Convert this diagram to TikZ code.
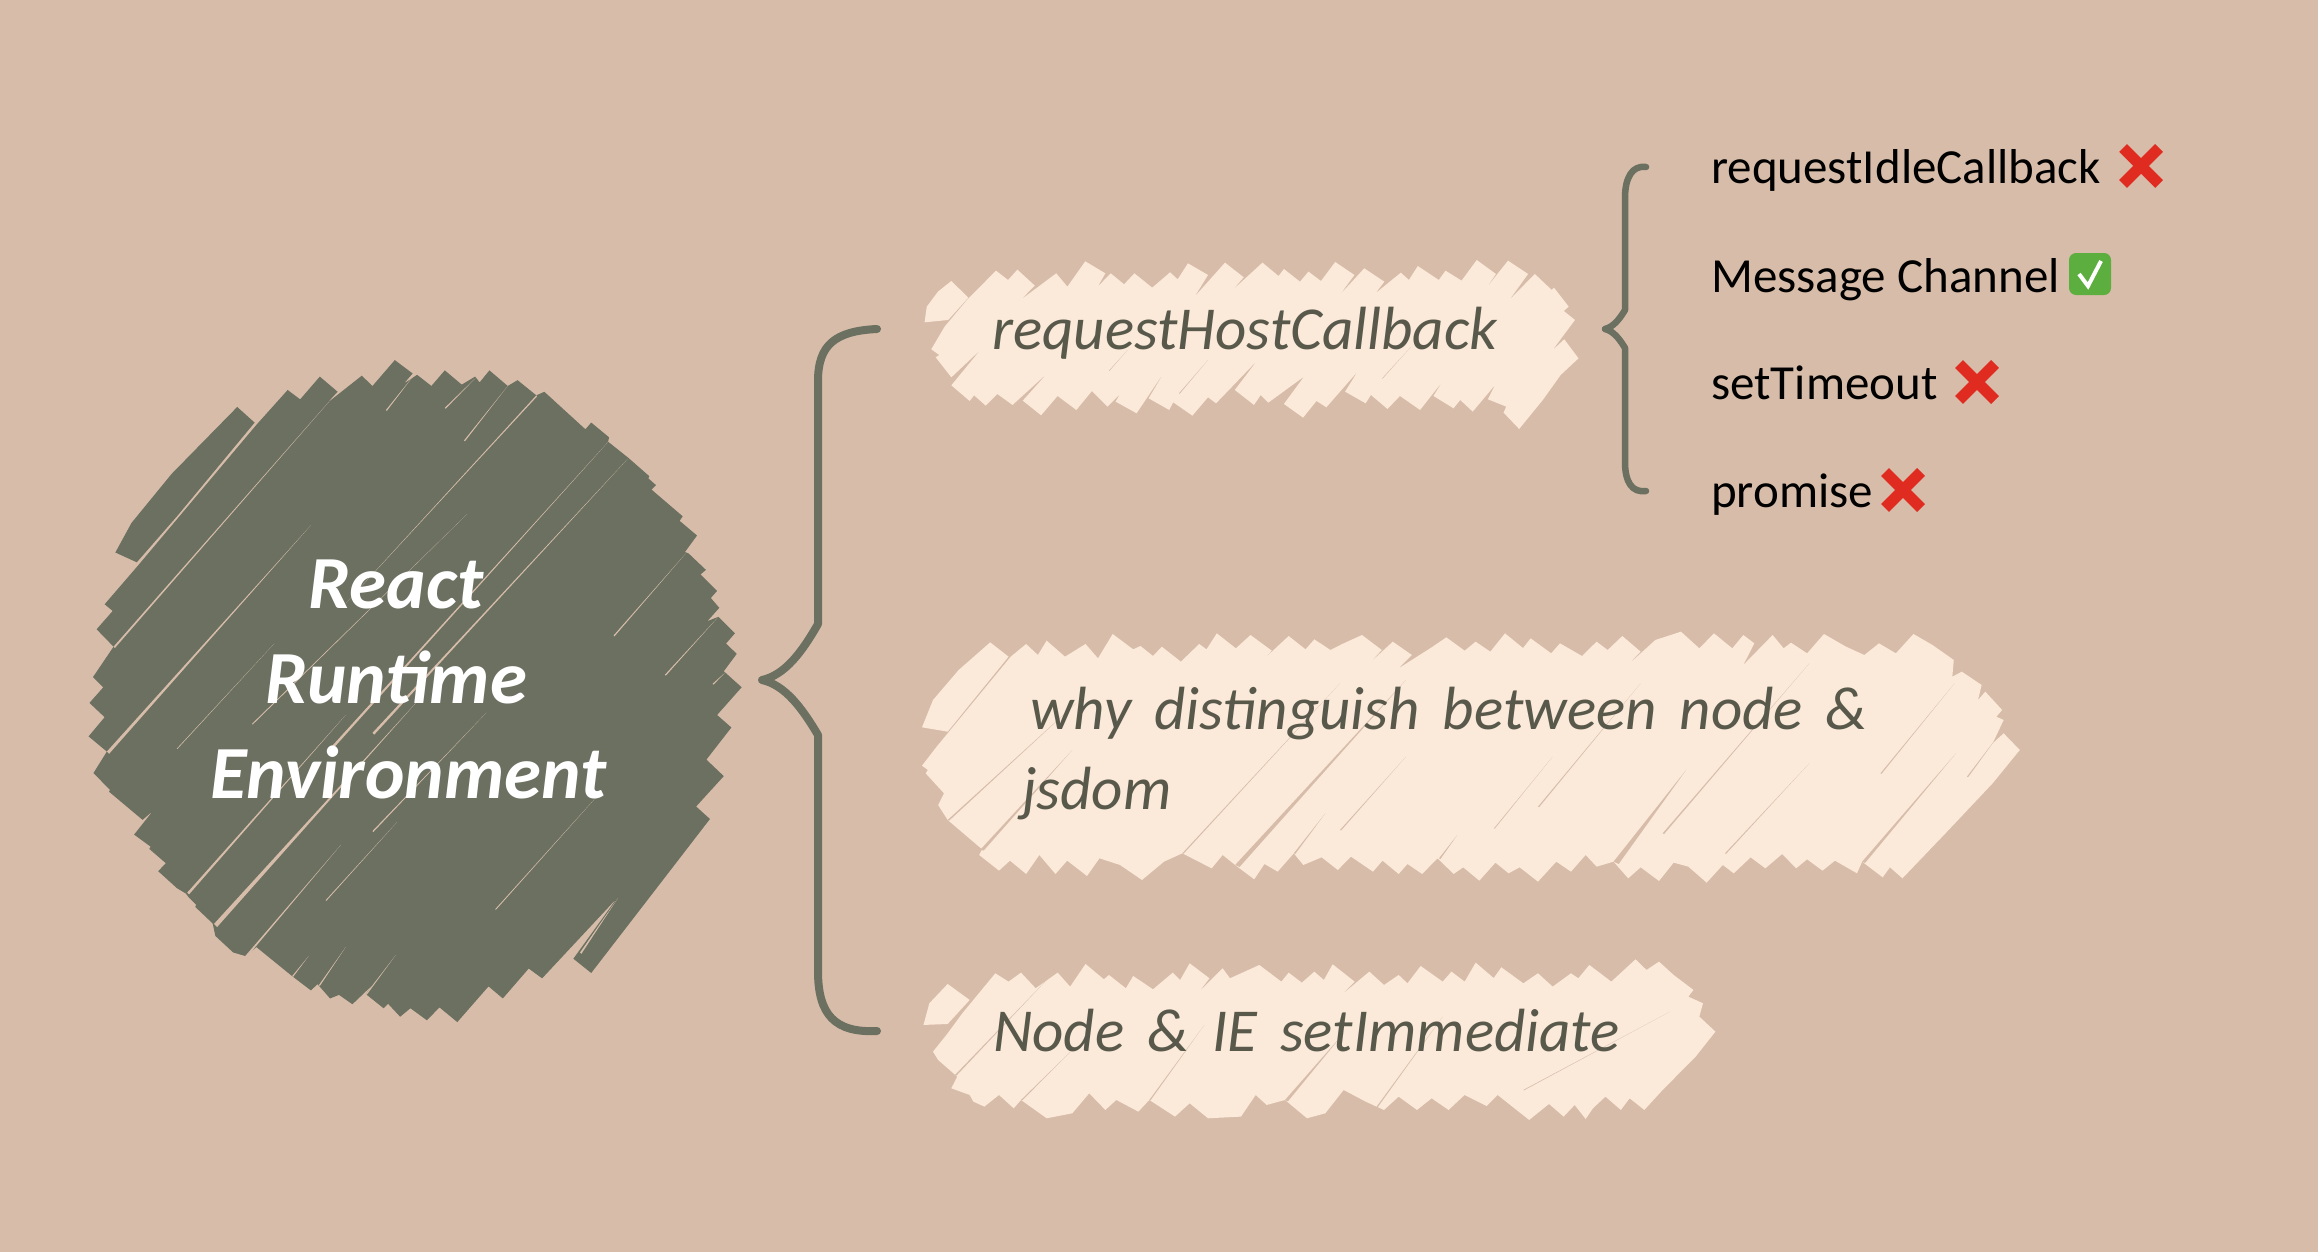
\documentclass[tikz,border=0pt]{standalone}
\usepackage{fontspec}
\setmainfont{Carlito}
\newfontfamily\handfam[WordSpace=1.67]{Carlito}
\definecolor{bgc}{HTML}{D7BDA9}
\definecolor{dark}{HTML}{6B7060}
\definecolor{lightc}{HTML}{FBE9DA}
\definecolor{txt}{HTML}{58594B}
\definecolor{crossc}{HTML}{E02B20}
\definecolor{okc}{HTML}{5CAE3E}
\newcommand{\slit}[4][bgc]{\fill[#1] (#2) -- (#3) -- ([shift={(#4,#4)}]#2) -- cycle;}
\newcommand{\crossmark}[1]{\draw[crossc,line width=11pt] ([shift={(-18,-18)}]#1) -- ([shift={(18,18)}]#1) ([shift={(18,-18)}]#1) -- ([shift={(-18,18)}]#1);}
\tikzset{
  hand/.style={font=\handfam\fontsize{61}{76}\selectfont\itshape,text=txt,anchor=base west,inner sep=0pt},
  item/.style={font=\fontsize{49}{50}\selectfont,text=black,anchor=base west,inner sep=0pt},
  bracket/.style={draw=dark,line cap=round,line join=round},
  zoomA/.style={shift={(60,340)},x=0.4464pt,y=-0.4464pt},
  zoomB/.style={shift={(900,120)},x=0.4464pt,y=-0.3333pt},
  zoomC/.style={shift={(900,620)},x=0.7333pt,y=-0.3333pt}
}
\begin{document}
\begin{tikzpicture}[x=1pt,y=-1pt]
\useasboundingbox (0,0) rectangle (2318,1252);
\fill[bgc] (0,0) rectangle (2318,1252);
% dark scribble
\begin{scope}[zoomA]
\fill[dark] (397,150)--(436,185)--(262,395)--(172,498)--(124,476)--(160,410)--(250,300)--cycle;
\fill[dark] (100,592)--(175,505)--(440,190)--(510,112)--(538,133)--(582,82)--(622,116)--(600,140)--(676,80)--(700,103)--(750,45)--(790,75)--(770,98)--(800,78)--(832,103)--(862,68)--(900,100)--(930,82)--(940,95)--(962,68)--(1003,103)--(1025,90)--(1067,124)--(1085,116)--(1177,200)--(1190,185)--(1230,218)--(1228,228)--(1272,263)--(1280,270)--(1320,305)--(1318,310)--(1335,325)--(1325,335)--(1395,395)--(1388,405)--(1427,438)--(1400,475)--(1408,478)--(1447,515)--(1435,525)--(1472,562)--(1458,578)--(1477,600)--(1450,630)--(1475,620)--(1512,657)--(1492,680)--(1516,703)--(1487,742)--(1527,778)--(1472,840)--(1504,868)--(1448,940)--(1487,977)--(1425,1045)--(1456,1073)--(1190,1418)--(1150,1386)--(1248,1250)--(1080,1430)--(1050,1408)--(992,1475)--(960,1448)--(890,1528)--(850,1495)--(822,1524)--(785,1497)--(762,1516)--(735,1487)--(725,1497)--(685,1465)--(700,1445)--(655,1488)--(625,1467)--(605,1475)--(577,1443)--(562,1457)--(520,1425)--(440,1360)--(415,1380)--(388,1372)--(348,1335)--(342,1307)--(303,1270)--(305,1265)--(288,1248)--(282,1240)--(262,1228)--(220,1190)--(237,1172)--(200,1140)--(203,1135)--(166,1108)--(208,1055)--(185,1075)--(110,1012)--(112,1008)--(75,970)--(105,922)--(64,888)--(100,845)--(66,813)--(97,778)--(74,755)--(120,687)--(82,648)--(118,607)--cycle;
\slit{120,687}{622,116}{3}
\slit{105,922}{562,415}{5}
\slit{262,915}{480,680}{1}
\slit{430,860}{912,390}{1.5}
\slit{730,157}{792,80}{2}
\slit{862,152}{932,84}{2}
\slit{905,225}{1003,103}{2}
\slit{1067,124}{640,590}{2}
\slit{285,1238}{640,840}{4}
\slit{600,920}{1230,226}{4}
\slit{700,880}{1272,266}{4}
\slit{1240,662}{1402,478}{2}
\slit{1355,750}{1475,620}{2}
\slit{1462,770}{1490,745}{2}
\slit{345,1308}{800,810}{7}
\slit{415,1380}{630,1130}{3}
\slit{595,1255}{755,1080}{1.5}
\slit{975,1275}{1205,1020}{1.5}
\slit{520,1425}{557,1380}{2}
\slit{580,1445}{640,1360}{2}
\slit{685,1465}{752,1378}{2}
\slit{700,1100}{955,835}{2}
\slit{1165,1372}{1250,1250}{3}
\end{scope}
% light scribble 1
\begin{scope}[zoomB]
\fill[lightc] (115,483)--(153,533)--(108,600)--(55,607)--(60,560)--(85,515)--cycle;
\fill[lightc] (70,688)--(100,620)--(150,540)--(215,452)--(242,480)--(263,449)--(302,497)--(270,540)--(350,460)--(375,500)--(415,424)--(460,460)--(443,500)--(472,460)--(502,493)--(525,460)--(565,503)--(605,457)--(622,478)--(645,430)--(690,465)--(660,530)--(728,428)--(770,472)--(745,510)--(812,428)--(848,468)--(860,447)--(896,485)--(915,455)--(943,483)--(975,426)--(1018,465)--(985,525)--(1040,445)--(1085,485)--(1065,520)--(1122,458)--(1140,480)--(1160,438)--(1207,480)--(1222,452)--(1258,482)--(1292,420)--(1335,462)--(1310,510)--(1362,422)--(1407,462)--(1365,540)--(1422,462)--(1460,510)--(1465,503)--(1498,560)--(1487,573)--(1512,600)--(1462,690)--(1488,658)--(1520,715)--(1480,765)--(1440,840)--(1387,927)--(1352,878)--(1358,860)--(1317,838)--(1333,795)--(1283,875)--(1255,840)--(1240,865)--(1195,828)--(1215,785)--(1165,870)--(1120,828)--(1092,867)--(1055,825)--(1043,850)--(997,815)--(1025,755)--(955,862)--(933,843)--(903,893)--(860,852)--(905,770)--(825,848)--(808,825)--(793,855)--(750,810)--(800,722)--(708,850)--(690,832)--(655,887)--(612,847)--(603,870)--(557,835)--(595,750)--(530,880)--(483,845)--(493,822)--(465,860)--(430,813)--(395,870)--(353,828)--(316,886)--(275,842)--(330,760)--(252,855)--(218,822)--(192,857)--(166,826)--(156,843)--(115,796)--(180,690)--(115,772)--(80,712)--(88,705)--cycle;
\slit{468,752}{510,690}{1}
\slit{625,820}{690,720}{1.5}
\slit{1080,775}{1145,680}{1}
\end{scope}
% light scribbles 2 and 3
\begin{scope}[zoomC]
\fill[lightc] (123,67)--(148,110)--(65,335)--(30,322)--(45,240)--(80,150)--cycle;
\fill[lightc] (30,437)--(50,380)--(65,340)--(151,110)--(172,72)--(188,105)--(200,62)--(225,110)--(253,72)--(270,115)--(290,42)--(318,88)--(328,78)--(345,108)--(357,80)--(383,125)--(408,72)--(418,88)--(432,40)--(458,85)--(478,45)--(507,92)--(490,130)--(530,48)--(553,88)--(565,58)--(587,90)--(603,72)--(630,45)--(657,90)--(640,130)--(672,65)--(698,105)--(680,145)--(725,82)--(745,52)--(770,92)--(785,65)--(805,95)--(825,40)--(850,85)--(835,125)--(860,55)--(888,100)--(900,70)--(930,108)--(950,65)--(965,90)--(985,48)--(1010,95)--(990,140)--(1030,60)--(1065,35)--(1090,85)--(1110,40)--(1135,85)--(1150,45)--(1165,70)--(1150,135)--(1190,45)--(1205,85)--(1215,68)--(1237,100)--(1260,42)--(1290,80)--(1315,105)--(1335,70)--(1358,100)--(1382,42)--(1408,75)--(1437,120)--(1435,170)--(1448,155)--(1475,195)--(1470,240)--(1480,215)--(1503,270)--(1495,290)--(1505,300)--(1490,370)--(1505,340)--(1527,390)--(1490,490)--(1430,630)--(1367,775)--(1350,742)--(1340,772)--(1312,725)--(1305,760)--(1275,722)--(1258,752)--(1237,718)--(1222,745)--(1203,702)--(1180,745)--(1160,712)--(1137,760)--(1122,735)--(1100,788)--(1075,740)--(1055,728)--(1035,783)--(1010,742)--(993,775)--(973,725)--(950,740)--(935,705)--(915,755)--(895,725)--(870,785)--(845,742)--(830,760)--(812,728)--(790,782)--(768,742)--(755,762)--(733,715)--(712,762)--(692,732)--(680,762)--(658,722)--(645,755)--(615,710)--(597,750)--(575,712)--(550,735)--(537,700)--(515,755)--(497,732)--(483,778)--(457,735)--(440,705)--(425,745)--(385,700)--(360,725)--(330,780)--(300,735)--(272,715)--(255,768)--(228,722)--(212,762)--(190,705)--(172,762)--(150,722)--(135,752)--(108,705)--(112,688)--(65,600)--(52,555)--(60,520)--(35,460)--(38,450)--cycle;
\slit{65,600}{240,250}{2}
\slit{110,688}{235,390}{4}
\slit{385,700}{600,190}{1.5}
\slit{457,735}{690,180}{6}
\slit{537,700}{580,580}{2}
\slit{600,630}{690,410}{1.5}
\slit{735,715}{760,645}{2}
\slit{810,625}{890,410}{1}
\slit{870,560}{1010,190}{1.5}
\slit{973,725}{1072,450}{7}
\slit{1040,640}{1240,130}{2}
\slit{1125,700}{1240,430}{1.5}
\slit{1312,725}{1440,400}{4}
\slit{1337,460}{1438,190}{1.5}
\slit{1455,470}{1500,340}{1.5}
% third
\fill[lightc] (65,1092)--(95,1140)--(65,1212)--(32,1215)--(40,1150)--cycle;
\fill[lightc] (45,1295)--(65,1240)--(85,1180)--(130,1060)--(148,1085)--(165,1058)--(185,1105)--(215,1058)--(232,1100)--(253,1032)--(278,1078)--(285,1065)--(308,1105)--(318,1068)--(345,1108)--(372,1058)--(382,1080)--(395,1030)--(422,1075)--(408,1115)--(440,1045)--(450,1075)--(490,1035)--(520,1085)--(530,1058)--(548,1088)--(565,1055)--(578,1080)--(590,1033)--(620,1085)--(602,1125)--(640,1055)--(660,1095)--(680,1065)--(692,1090)--(710,1038)--(740,1085)--(752,1055)--(770,1085)--(785,1028)--(810,1075)--(795,1120)--(820,1042)--(850,1090)--(870,1060)--(890,1100)--(915,1060)--(925,1075)--(940,1035)--(970,1085)--(1003,1018)--(1018,1050)--(1035,1025)--(1055,1065)--(1082,1110)--(1075,1130)--(1095,1150)--(1090,1190)--(1112,1235)--(1085,1310)--(1040,1410)--(1015,1470)--(995,1435)--(983,1470)--(962,1430)--(945,1465)--(935,1497)--(920,1455)--(905,1490)--(885,1452)--(858,1500)--(835,1460)--(815,1425)--(800,1458)--(770,1425)--(748,1470)--(725,1435)--(705,1470)--(680,1430)--(660,1470)--(635,1445)--(605,1410)--(580,1480)--(555,1495)--(525,1440)--(500,1455)--(485,1425)--(465,1490)--(420,1495)--(395,1450)--(375,1490)--(340,1440)--(325,1475)--(295,1440)--(280,1470)--(258,1420)--(235,1480)--(200,1495)--(165,1440)--(155,1465)--(135,1425)--(115,1460)--(100,1445)--(95,1425)--(70,1405)--(78,1370)--(52,1320)--cycle;
\slit{75,1365}{200,1080}{2}
\slit{165,1440}{235,1290}{1.5}
\slit{340,1440}{415,1215}{1.5}
\slit{525,1440}{605,1240}{4}
\slit{650,1460}{740,1190}{1.5}
\slit{850,1410}{1050,1175}{1}
\end{scope}
% braces
\draw[bracket,line width=8pt] (877,329) .. controls (835,331) and (818,345) .. (818,381) -- (818,624) .. controls (802,652) and (785,675) .. (762,680) .. controls (785,685) and (802,708) .. (818,735) -- (818,971) .. controls (818,1015) and (835,1033) .. (877,1031);
\draw[bracket,line width=6.5pt] (1646,167) .. controls (1632,165) and (1625,178) .. (1625,198) -- (1625,310) .. controls (1619,320) and (1613,327) .. (1605,329) .. controls (1613,331) and (1619,338) .. (1625,348) -- (1625,462) .. controls (1625,482) and (1632,493) .. (1646,491);
% text
\node[font=\fontsize{75}{95}\selectfont\bfseries\itshape,text=white,align=center,inner sep=0pt] (title) at (396,679) {React\\Runtime\\\hspace*{25pt}Environment};
\node[hand] (cb) at (992,349) {requestHostCallback};
\node[hand,align=left] (why) at (1030,809) {why distinguish between node \&\\[4pt]\hspace*{-8pt}jsdom};
\node[hand] (ie) at (993,1051) {Node \& IE setImmediate};
\node[item] (a1) at (1711,184) {requestIdleCallback};
\node[item] (a2) at (1711,292) {Message Channel};
\node[item] (a3) at (1711,399) {setTimeout};
\node[item] (a4) at (1711,507) {promise};
\crossmark{2141,166}
\crossmark{1977,382}
\crossmark{1903,490}
\fill[okc,rounded corners=7pt] (2069,253) rectangle (2111,295);
\draw[white,line width=4pt] (2079,274) -- (2088,286) -- (2101,261);
\end{tikzpicture}
\end{document}
